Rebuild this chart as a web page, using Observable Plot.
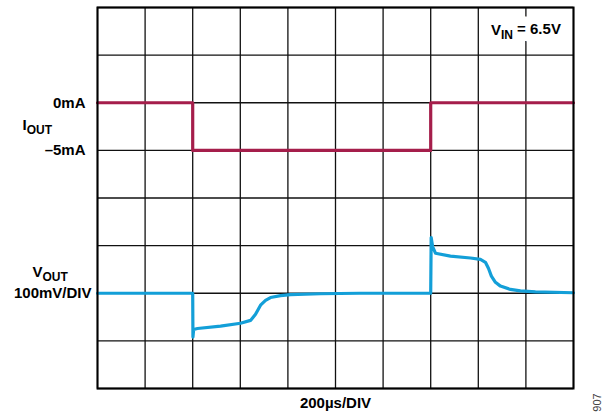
<!DOCTYPE html>
<html><head><meta charset="utf-8">
<script src="https://cdn.jsdelivr.net/npm/d3@7"></script>
<script src="https://cdn.jsdelivr.net/npm/@observablehq/plot@0.6"></script>
<style>body{margin:0;background:#fff} svg{display:block}</style>
</head><body><div id="chart"></div>
<script>
// grid: 10 horizontal divisions of 200 µs, 8 vertical divisions
const gridTimes = [0, 200, 400, 600, 800, 1000, 1200, 1400, 1600, 1800, 2000];
const gridDivs = [0, 1, 2, 3, 4, 5, 6, 7, 8];

// IOUT trace (mA), 5 mA/div, 0 mA at division 6
const ioutTime = [0, 400, 400, 1400, 1400, 2000];
const ioutMA   = [0, 0, -5, -5, 0, 0];
const ioutZeroDiv = 6, ioutPerDiv = 5;

// VOUT trace (mV deviation), 100 mV/div, baseline at division 2
const voutTime = [0, 400, 401, 404, 420, 517, 601, 643, 664, 685, 706, 727, 769, 811, 937, 1100, 1300, 1400, 1402, 1408, 1420, 1483, 1567, 1609, 1630, 1643, 1655, 1672, 1693, 1735, 1777, 1840, 2000];
const voutMV   = [0, 0, -92, -76, -74, -69, -63, -57, -44, -25, -15, -9, -5, -3, -1, 0, 0, 0, 117, 98, 84, 78, 74, 71, 65, 52, 36, 23, 15, 8, 5, 3, 1];
const voutZeroDiv = 2, voutPerDiv = 100;

// labels
const ioutTickValues = [0, -5];
const ioutTickLabels = ["0mA", "\u20135mA"];
const ioutName = "IOUT";
const voutName = "VOUT";
const voutScale = "100mV/DIV";
const timeScale = "200\u00b5s/DIV";
const vinNote = "VIN = 6.5V";
const figId = "907";

const ioutData = ioutTime.map((t, i) => ({t, d: ioutZeroDiv + ioutMA[i] / ioutPerDiv}));
const voutData = voutTime.map((t, i) => ({t, d: voutZeroDiv + voutMV[i] / voutPerDiv}));
const ioutTicks = ioutTickValues.map((v, i) => ({d: ioutZeroDiv + v / ioutPerDiv, label: ioutTickLabels[i]}));

const font = "'Liberation Sans', Arial, Helvetica, sans-serif";
const red = "#a51e4b", blue = "#139fd8";
const lbl = {fontSize: 15, fontWeight: "bold", fill: "#000"};

const svg = Plot.plot({
  width: 613, height: 415,
  marginLeft: 97, marginRight: 40, marginTop: 7, marginBottom: 27,
  x: {domain: [0, 2000], axis: null},
  y: {domain: [0, 8], axis: null},
  style: {fontFamily: font, background: "#fff"},
  marks: [
    Plot.ruleX(gridTimes, {stroke: "#111", strokeWidth: 1.3}),
    Plot.ruleY(gridDivs, {stroke: "#111", strokeWidth: 1.3}),
    // white mask behind the V_IN note
    Plot.text([vinNote], {x: 1800, y: 7.5, text: d => d, fontSize: 15, fontWeight: "bold", fill: "#fff",
      stroke: "#fff", strokeWidth: 19, strokeLinejoin: "round", textAnchor: "middle", dy: -1}),
    Plot.text([vinNote], {x: 1800, y: 7.5, text: d => d, ...lbl, textAnchor: "middle", dy: -1}),
    Plot.line(ioutData, {x: "t", y: "d", stroke: red, strokeWidth: 3.2}),
    Plot.line(voutData, {x: "t", y: "d", stroke: blue, strokeWidth: 3.2}),
    Plot.frame({stroke: "#000", strokeWidth: 2}),
    Plot.text(ioutTicks, {x: 0, y: "d", text: "label", dx: -12, textAnchor: "end", ...lbl}),
    Plot.text([ioutName], {x: 0, y: 5.52, text: d => d, dx: -75, textAnchor: "start", ...lbl}),
    Plot.text([voutName], {x: 0, y: 2.44, text: d => d, dx: -65, textAnchor: "start", ...lbl}),
    Plot.text([voutScale], {x: 0, y: 2, text: d => d, dx: -6, textAnchor: "end", ...lbl}),
    Plot.text([timeScale], {x: 1000, y: 0, text: d => d, dy: 15, textAnchor: "middle", ...lbl}),
    Plot.text([figId], {x: 2000, y: 0, text: d => d, dx: 24, dy: 14, rotate: -90, textAnchor: "middle", fontSize: 11, fill: "#444"})
  ]
});

// subscripts
const subs = {"IOUT": ["I", "OUT", ""], "VOUT": ["V", "OUT", ""], "VIN = 6.5V": ["V", "IN", " = 6.5V"]};
d3.select(svg).selectAll("text").each(function() {
  const t = this.textContent;
  const s = subs[t];
  if (!s) return;
  const el = d3.select(this);
  el.text(null);
  el.append("tspan").text(s[0]);
  el.append("tspan").attr("dy", "0.3em").attr("font-size", 12).text(s[1]);
  if (s[2]) el.append("tspan").attr("dy", "-0.3em").text(s[2]);
});

document.getElementById("chart").appendChild(svg);
</script>
</body></html>
